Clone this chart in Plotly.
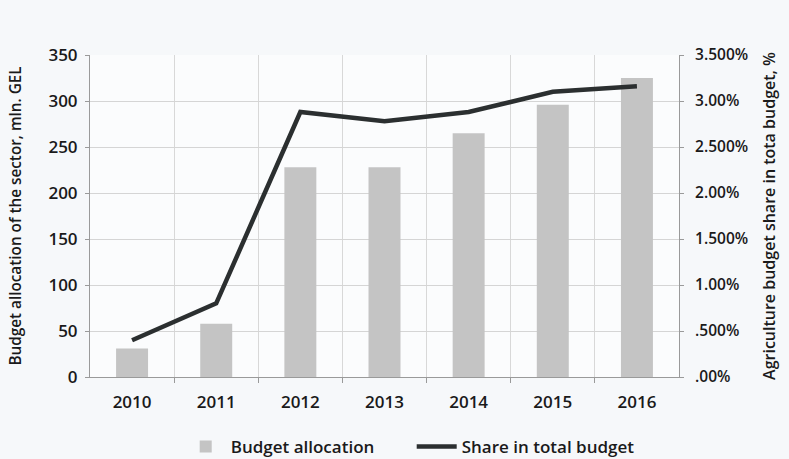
import plotly.graph_objects as go

years = [2010, 2011, 2012, 2013, 2014, 2015, 2016]
budget_allocation = [31, 58, 228, 228, 265, 296, 325]
share_total_budget = [0.40, 0.80, 2.88, 2.78, 2.88, 3.10, 3.16]

left_ticks = [0, 50, 100, 150, 200, 250, 300, 350]
right_tickvals = [0, 0.5, 1.0, 1.5, 2.0, 2.5, 3.0, 3.5]
right_ticktext = [".00%", ".500%", "1.00%", "1.500%", "2.00%", "2.500%", "3.00%", "3.500%"]

font_family = "Open Sans, DejaVu Sans, sans-serif"
txt = "#1a1a1a"

fig = go.Figure()
fig.add_trace(go.Bar(
    x=years, y=budget_allocation, name="Budget allocation",
    marker=dict(color="#c4c4c4", line=dict(width=0)), width=0.38,
))
fig.add_trace(go.Scatter(
    x=years, y=share_total_budget, name="Share in total budget", yaxis="y2",
    mode="lines", line=dict(color="#2b2f30", width=4.5),
))

fig.update_layout(
    width=789, height=459,
    margin=dict(l=90, r=110, t=55, b=82),
    paper_bgcolor="#f6f8fa", plot_bgcolor="#fbfcfd",
    font=dict(family=font_family, size=14, color=txt, weight=600),
    showlegend=True,
    legend=dict(orientation="h", x=0.154, xanchor="left", yref="container",
                y=0.026, yanchor="middle",
                font=dict(size=17, color=txt, weight=600), itemwidth=40,
                bgcolor="rgba(0,0,0,0)", entrywidth=176),
    xaxis=dict(
        range=[2009.5, 2016.5], tickvals=years, ticktext=[str(y) for y in years],
        showgrid=False, ticks="", showline=True, linecolor="#9a9a9a", linewidth=1,
        zeroline=False, ticklabelstandoff=10,
        minor=dict(tickvals=[2010.5, 2011.5, 2012.5, 2013.5, 2014.5, 2015.5],
                   showgrid=True, gridcolor="#d8d8d8", gridwidth=1,
                   ticks="outside", ticklen=5, tickcolor="#9a9a9a"),
        tickfont=dict(size=17),
    ),
    yaxis=dict(
        range=[0, 350], tickvals=left_ticks, showgrid=True, gridcolor="#d5d5d5",
        showline=True, linecolor="#9a9a9a", ticks="outside", ticklen=4, tickcolor="#9a9a9a",
        zeroline=False, tickfont=dict(size=17), ticklabelstandoff=4,
        title=dict(text="Budget allocation of the sector, mln. GEL", font=dict(size=15.3), standoff=23),
    ),
    yaxis2=dict(
        overlaying="y", side="right", range=[0, 3.5], tickvals=right_tickvals,
        ticktext=right_ticktext, showgrid=False, showline=True, linecolor="#9a9a9a",
        ticks="outside", ticklen=4, tickcolor="#9a9a9a", zeroline=False,
        tickfont=dict(size=15.5), ticklabelstandoff=8,
        title=dict(text="Agriculture budget share in tota budget, %", font=dict(size=16), standoff=16),
    ),
)

fig.write_html("out.html")
